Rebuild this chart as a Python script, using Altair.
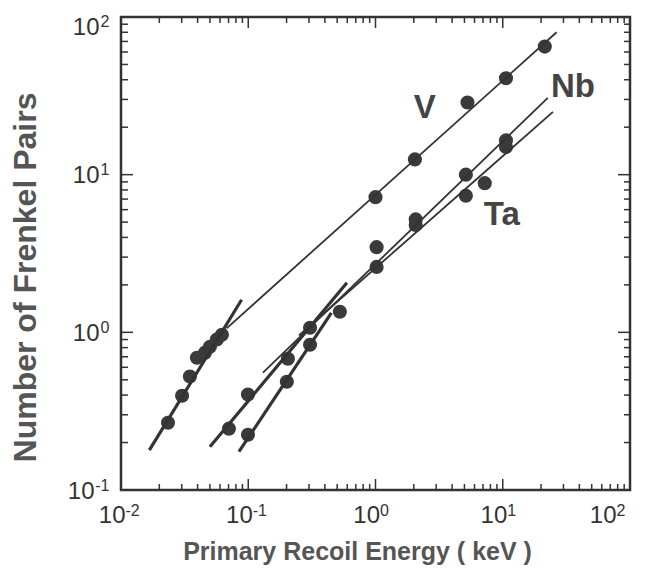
import altair as alt
import pandas as pd

# ---- data ----
v_x = [0.0234, 0.0302, 0.0348, 0.0395, 0.0457, 0.050, 0.0567, 0.0621, 1.0, 2.04, 5.28, 10.6, 21.4]
v_y = [0.267, 0.396, 0.524, 0.69, 0.743, 0.81, 0.90, 0.966, 7.2, 12.5, 28.7, 40.9, 64.9]
nb_x = [0.0705, 0.0995, 0.205, 0.306, 0.525, 1.02, 2.07, 5.13, 10.6]
nb_y = [0.245, 0.403, 0.68, 1.07, 1.35, 3.47, 5.2, 10.0, 16.5]
ta_x = [0.0995, 0.201, 0.306, 1.02, 2.07, 5.13, 7.22, 10.6]
ta_y = [0.224, 0.486, 0.834, 2.6, 4.8, 7.35, 8.83, 15.0]

# fitted lines (end points)
thick_names = ["V low", "Nb low", "Ta low"]
thick_x0 = [0.0167, 0.050, 0.0845]
thick_y0 = [0.179, 0.188, 0.175]
thick_x1 = [0.0887, 0.596, 0.45]
thick_y1 = [1.61, 2.06, 1.33]

thin_names = ["V high", "Nb high", "Ta high"]
thin_x0 = [0.0676, 0.1305, 0.25]
thin_y0 = [1.06, 0.555, 0.955]
thin_x1 = [26.5, 22.6, 24.8]
thin_y1 = [80.0, 30.7, 25.0]

label_text = ["V", "Nb", "Ta"]
label_x = [2.44, 35.6, 9.84]
label_y = [26.5, 36.0, 5.56]

x_major = [0.01, 0.1, 1, 10, 100]
y_major = [0.1, 1, 10, 100]
mult = [2, 3, 4, 5, 6, 7, 8, 9]
x_minor = [m * d for d in [0.01, 0.1, 1, 10] for m in mult]
y_minor = [m * d for d in [0.1, 1, 10] for m in mult]

W, H = 509, 473
INK = "#3a3a3a"
FONT = "Liberation Sans"

pts = pd.DataFrame({
    "x": v_x + nb_x + ta_x,
    "y": v_y + nb_y + ta_y,
    "s": ["V"] * len(v_x) + ["Nb"] * len(nb_x) + ["Ta"] * len(ta_x),
})


def seg_df(names, x0, y0, x1, y1):
    rows = []
    for n, a, b, c, d in zip(names, x0, y0, x1, y1):
        rows.append({"id": n, "x": a, "y": b})
        rows.append({"id": n, "x": c, "y": d})
    return pd.DataFrame(rows)


thick = seg_df(thick_names, thick_x0, thick_y0, thick_x1, thick_y1)
thin = seg_df(thin_names, thin_x0, thin_y0, thin_x1, thin_y1)
labels = pd.DataFrame({"t": label_text, "x": label_x, "y": label_y})

exp_expr = ("datum.value < 0.05 ? '-2' : datum.value < 0.5 ? '-1' : "
            "datum.value < 5 ? '0' : datum.value < 50 ? '1' : '2'")

xs = alt.Scale(type="log", domain=[0.01, 100], nice=False)
ys = alt.Scale(type="log", domain=[0.1, 100], nice=False)


def cond(test, a, b):
    return {"condition": {"test": test, "value": a}, "value": b}


common = dict(ticks=False, domain=False, grid=False, labelFlush=False,
              labelFont=FONT, labelColor="#333", labelOverlap=False)

# base "10" axes
x_base_axis = alt.Axis(values=x_major, labelExpr="'10'", labelFontSize=24, labelAlign="right",
                       labelBaseline="top", labelPadding=13,
                       labelOffset=cond("datum.value > 50", -14, 4), orient="bottom",
                       title="Primary Recoil Energy  ( keV )", titleX=236, titleY=61,
                       titleBaseline="middle", **common)
y_base_axis = alt.Axis(values=y_major, labelExpr="'10'", labelFontSize=24, labelAlign="right",
                       labelBaseline="middle",
                       labelPadding=cond("datum.value < 0.5", 27, 22),
                       labelOffset=cond("datum.value > 50", 10, 1), orient="left",
                       title="Number of Frenkel Pairs", titleX=-96, titleY=260,
                       titleBaseline="middle", titleFontSize=32, **common)
# exponent axes
x_exp_axis = alt.Axis(values=x_major, labelExpr=exp_expr, labelFontSize=16, labelAlign="left",
                      labelBaseline="top", labelPadding=12,
                      labelOffset=cond("datum.value > 50", -14, 4), orient="bottom",
                      title=None, **common)
y_exp_axis = alt.Axis(values=y_major, labelExpr=exp_expr, labelFontSize=16, labelAlign="right",
                      labelBaseline="middle", labelPadding=12,
                      labelOffset=cond("datum.value > 50", 4, -5), orient="left",
                      title=None, **common)

points = alt.Chart(pts).mark_point(filled=True, shape="circle", size=200,
                                   color=INK, opacity=1).encode(
    x=alt.X("x:Q", scale=xs, axis=x_base_axis),
    y=alt.Y("y:Q", scale=ys, axis=y_base_axis))

thick_lines = alt.Chart(thick).mark_line(color="#333", strokeWidth=3.2).encode(
    x=alt.X("x:Q", scale=xs, axis=x_exp_axis),
    y=alt.Y("y:Q", scale=ys, axis=y_exp_axis), detail="id:N")
thin_lines = alt.Chart(thin).mark_line(color="#333", strokeWidth=1.8).encode(
    x=alt.X("x:Q", scale=xs, axis=None), y=alt.Y("y:Q", scale=ys, axis=None), detail="id:N")

txt = alt.Chart(labels).mark_text(fontSize=33, fontWeight="bold", font=FONT,
                                  color="#444").encode(
    x=alt.X("x:Q", scale=xs, axis=None), y=alt.Y("y:Q", scale=ys, axis=None), text="t:N")


def xticks(vals, y0, y1):
    return alt.Chart(pd.DataFrame({"v": vals})).mark_rule(color="#333", strokeWidth=1.5).encode(
        x=alt.X("v:Q", scale=xs, axis=None), y=alt.value(y0), y2=alt.value(y1))


def yticks(vals, x0, x1):
    return alt.Chart(pd.DataFrame({"v": vals})).mark_rule(color="#333", strokeWidth=1.5).encode(
        y=alt.Y("v:Q", scale=ys, axis=None), x=alt.value(x0), x2=alt.value(x1))


ticks = [
    xticks(x_major, H, H - 11), xticks(x_minor, H, H - 6),
    xticks(x_major, 0, 11), xticks(x_minor, 0, 6),
    yticks(y_major, 0, 12), yticks(y_minor, 0, 7),
    yticks(y_major, W, W - 12), yticks(y_minor, W, W - 6),
]

chart = alt.layer(points, thick_lines, thin_lines, txt, *ticks).resolve_axis(
    x="independent", y="independent"
).properties(
    width=W, height=H, autosize="none",
    padding={"left": 113, "top": 9, "right": 16, "bottom": 76},
    background="white",
).configure_view(stroke="#333", strokeWidth=2.5).configure_axis(
    titleFont=FONT, titleFontSize=25, titleFontWeight="bold", titleColor="#555",
)

chart.save("out.html", embed_options={"renderer": "svg", "actions": False})
